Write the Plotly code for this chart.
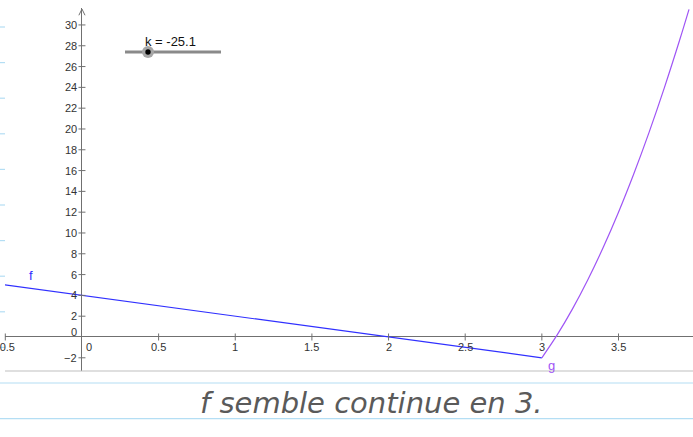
import plotly.graph_objects as go

# ---- data ----
f_x = [-0.55, 3.0]
f_y = [5.1, -2.0]
g_x = [3.0, 3.1, 3.2, 3.3, 3.4, 3.5, 3.6, 3.7, 3.8, 3.9, 3.96]
g_y = [-2.0, 0.2, 2.7, 5.5, 8.6, 12.0, 15.7, 19.7, 24.0, 28.6, 31.5]
x_ticks = [-0.5, 0.5, 1, 1.5, 2, 2.5, 3, 3.5, 4]
x_tick_labels = ["-0.5", "0.5", "1", "1.5", "2", "2.5", "3", "3.5", "4"]
y_ticks = [-2, 2, 4, 6, 8, 10, 12, 14, 16, 18, 20, 22, 24, 26, 28, 30]
slider_label = "k = -25.1"
note_text = "f semble continue en 3."

W, H = 693, 437
L, R, T, B = 5, 0, 8, 66
X_RANGE = [-0.502, 3.986]
Y_RANGE = [-3.27, 31.63]

def pxx(px):
    return (px - L) / (W - L - R)

def pxy(py):
    return (H - B - py) / (H - B - T)

BLUE = "#3030ff"
PURPLE = "#9f55f5"
AX = "#707070"
LBL = "#333333"
FONT = "Liberation Sans"

fig = go.Figure()
fig.add_trace(go.Scatter(x=f_x, y=f_y, mode="lines", line=dict(color=BLUE, width=1.2),
                         hoverinfo="skip", showlegend=False))
fig.add_trace(go.Scatter(x=g_x, y=g_y, mode="lines",
                         line=dict(color=PURPLE, width=1.2, shape="spline", smoothing=1.0),
                         hoverinfo="skip", showlegend=False))
# tick marks
fig.add_trace(go.Scatter(x=x_ticks, y=[0] * len(x_ticks), mode="markers",
                         marker=dict(symbol="line-ns", size=5, line=dict(color=AX, width=1)),
                         hoverinfo="skip", showlegend=False, cliponaxis=False))
fig.add_trace(go.Scatter(x=[0] * len(y_ticks), y=y_ticks, mode="markers",
                         marker=dict(symbol="line-ew", size=5, line=dict(color=AX, width=1)),
                         hoverinfo="skip", showlegend=False))
# y-axis arrow head (chevron)
top = Y_RANGE[1] - 0.1
fig.add_trace(go.Scatter(x=[-0.02, 0, 0.02], y=[top - 0.6, top, top - 0.6], mode="lines",
                         line=dict(color=AX, width=1), hoverinfo="skip", showlegend=False))

ann = []
for v, t in zip(x_ticks, x_tick_labels):
    ann.append(dict(x=v, y=0, text=t, showarrow=False, xanchor="center", yanchor="top",
                    yshift=-2, font=dict(family=FONT, size=11, color=LBL)))
ann.append(dict(x=0, y=0, text="0", showarrow=False, xanchor="left", yanchor="top",
                xshift=2, yshift=-2, font=dict(family=FONT, size=11, color=LBL)))
for v in y_ticks:
    ann.append(dict(x=0, y=v, text=str(v).replace("-", "\u2212"), showarrow=False, xanchor="right",
                    yanchor="middle", xshift=-3, font=dict(family=FONT, size=11, color=LBL)))
ann.append(dict(x=0, y=0, text="0", showarrow=False, xanchor="right", yanchor="bottom",
                xshift=-3, yshift=-3, font=dict(family=FONT, size=11, color=LBL)))
# function labels
ann.append(dict(x=-0.333, y=5.96, text="f", showarrow=False, font=dict(family=FONT, size=13, color=BLUE)))
ann.append(dict(x=3.06, y=-2.75, text="g", showarrow=False, font=dict(family=FONT, size=13, color=PURPLE)))
# slider label
ann.append(dict(x=pxx(170), y=pxy(41), xref="paper", yref="paper", text=slider_label, showarrow=False,
                xanchor="center", yanchor="middle", font=dict(family=FONT, size=13, color="#111111")))
# handwritten note
ann.append(dict(x=pxx(372), y=pxy(403), xref="paper", yref="paper", text="<i>" + note_text + "</i>",
                showarrow=False, xanchor="center", yanchor="middle",
                font=dict(family="DejaVu Sans", size=29, color="#5a5a5a")))

shapes = []
# lined paper
PAPER_BLUE = "#b4def4"
for i in range(12):
    py = 27 + 35.6 * i
    if py < H - B:
        shapes.append(dict(type="line", xref="paper", yref="paper", x0=pxx(0), x1=pxx(L),
                           y0=pxy(py), y1=pxy(py), line=dict(color=PAPER_BLUE, width=1.2)))
    else:
        shapes.append(dict(type="line", xref="paper", yref="paper", x0=pxx(0), x1=pxx(W),
                           y0=pxy(py), y1=pxy(py), line=dict(color=PAPER_BLUE, width=1.2)))
# bottom border of the graphics view
shapes.append(dict(type="line", xref="paper", yref="paper", x0=0, x1=1, y0=0, y1=0,
                   line=dict(color="#c0c0c0", width=1.2)))
# slider
shapes.append(dict(type="line", xref="paper", yref="paper", x0=pxx(125), x1=pxx(221),
                   y0=pxy(52), y1=pxy(52), line=dict(color="#8a8a8a", width=3)))
shapes.append(dict(type="circle", xref="paper", yref="paper", x0=pxx(142), x1=pxx(154),
                   y0=pxy(58), y1=pxy(46), fillcolor="#a6a6a6", line=dict(width=0)))
shapes.append(dict(type="circle", xref="paper", yref="paper", x0=pxx(145.3), x1=pxx(150.7),
                   y0=pxy(54.7), y1=pxy(49.3), fillcolor="#000000", line=dict(width=0)))

fig.update_layout(
    width=W, height=H,
    margin=dict(l=L, r=R, t=T, b=B, pad=0),
    paper_bgcolor="white", plot_bgcolor="white",
    xaxis=dict(range=X_RANGE, showgrid=False, showticklabels=False, ticks="",
               zeroline=True, zerolinecolor=AX, zerolinewidth=1.2, fixedrange=True),
    yaxis=dict(range=Y_RANGE, showgrid=False, showticklabels=False, ticks="",
               zeroline=True, zerolinecolor=AX, zerolinewidth=1.2, fixedrange=True),
    annotations=ann, shapes=shapes, showlegend=False,
)
fig.write_html("out.html", config={"displayModeBar": False},
               post_script="document.body.style.margin='0';document.body.style.overflow='hidden';")
